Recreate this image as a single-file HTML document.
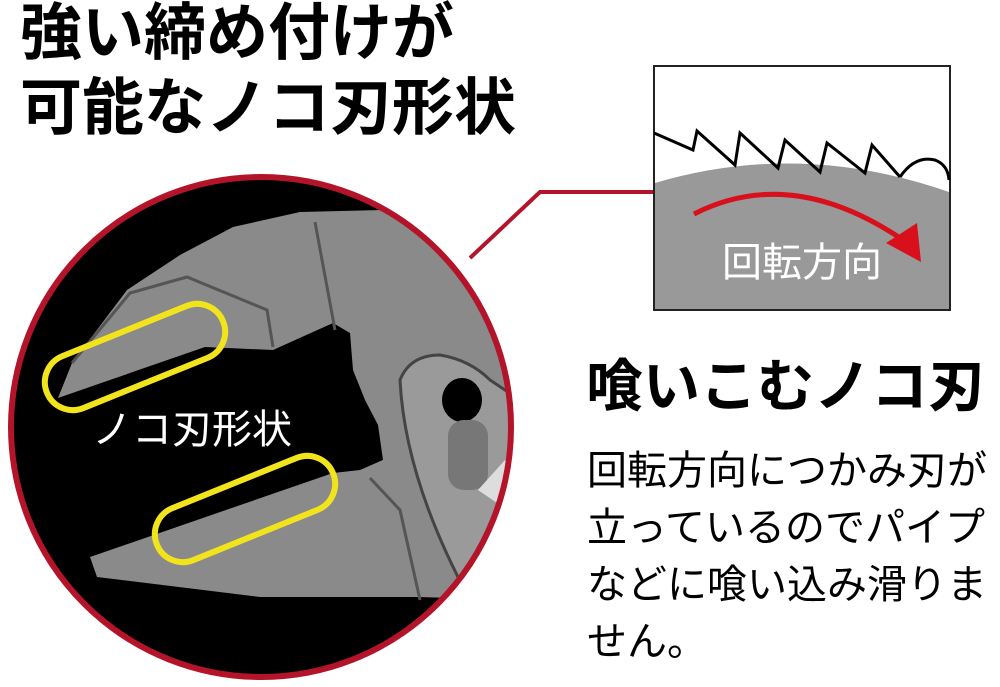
<!DOCTYPE html>
<html><head><meta charset="utf-8"><style>
body{margin:0;width:1000px;height:687px;background:#fff;overflow:hidden;position:relative;font-family:"Liberation Sans","Noto Sans CJK JP",sans-serif;}
.t{position:absolute;white-space:nowrap;line-height:1;}
</style></head><body>
<svg width="1000" height="687" style="position:absolute;left:0;top:0">
<defs><clipPath id="c"><circle cx="261" cy="427" r="250"/></clipPath></defs>
<polyline points="470,258 540,192 653,192" fill="none" stroke="#b3142a" stroke-width="4"/>
<circle cx="261" cy="427" r="250" fill="#000"/>
<g clip-path="url(#c)">
<polygon points="58,398 72,363 127,290 180,255 233,227 300,212 383,210 430,215 530,240 530,600 417,597 260,597 97,577 90,557 333,473 360,470 383,460 378,425 365,400 353,370 350,333 333,323 273,350 205,347" fill="#8a8a8a"/>
<polyline points="72,363 130,293 187,277 267,310 273,347" fill="none" stroke="#555" stroke-width="3"/>
<polyline points="315,222 335,330" fill="none" stroke="#555" stroke-width="3"/>
<polyline points="370,478 400,510 420,600" fill="none" stroke="#555" stroke-width="3"/>
<path d="M400,380 Q410,355 440,355 Q470,360 490,380 L520,400 L520,600 L470,600 Q405,480 400,380Z" fill="#9a9a9a" stroke="#444" stroke-width="3"/>
<ellipse cx="462" cy="400" rx="20" ry="22" fill="#000"/>
<rect x="448" y="420" width="40" height="70" rx="16" fill="#777"/>
<polygon points="478,490 505,460 520,480 500,505" fill="#ddd"/>
</g>
<circle cx="261" cy="427" r="250" fill="none" stroke="#b3142a" stroke-width="6"/>
<rect x="40" y="329" width="190" height="56" rx="28" transform="rotate(-22 135 357)" fill="none" stroke="#f2e41c" stroke-width="6"/>
<rect x="150" y="481" width="190" height="56" rx="28" transform="rotate(-22 245 509)" fill="none" stroke="#f2e41c" stroke-width="6"/>
<rect x="654" y="66" width="296" height="244" fill="#fff" stroke="#222" stroke-width="2"/>
<path d="M655,183 Q800,140 949,192 L949,309 L655,309Z" fill="#999"/>
<polyline points="654,133 693,150 697,131 735,165 740,133 778,168 785,140 820,172 827,143 865,173 872,145 900,177" fill="none" stroke="#000" stroke-width="3"/>
<path d="M900,177 Q915,155 935,160 Q948,165 949,180" fill="none" stroke="#000" stroke-width="3"/>
<path d="M694,214 Q790,165 900,238" fill="none" stroke="#d8101c" stroke-width="5"/>
<polygon points="886,243 917,223 921,262" fill="#d8101c"/>
</svg>
<div class="t" style="left:20px;top:3px;font-size:62px;font-weight:bold;">強い締め付けが</div>
<div class="t" style="left:20px;top:78px;font-size:62px;font-weight:bold;">可能なノコ刃形状</div>
<div class="t" style="left:92px;top:410px;font-size:40px;color:#fff;">ノコ刃形状</div>
<div class="t" style="left:722px;top:243px;font-size:40px;color:#fff;">回転方向</div>
<div class="t" style="left:586px;top:359px;font-size:57px;font-weight:bold;">喰いこむノコ刃</div>
<div class="t" style="left:587px;top:443px;font-size:40px;line-height:57px;white-space:normal;width:410px;">回転方向につかみ刃が<br>立っているのでパイプ<br>などに喰い込み滑りま<br>せん。</div>
</body></html>
